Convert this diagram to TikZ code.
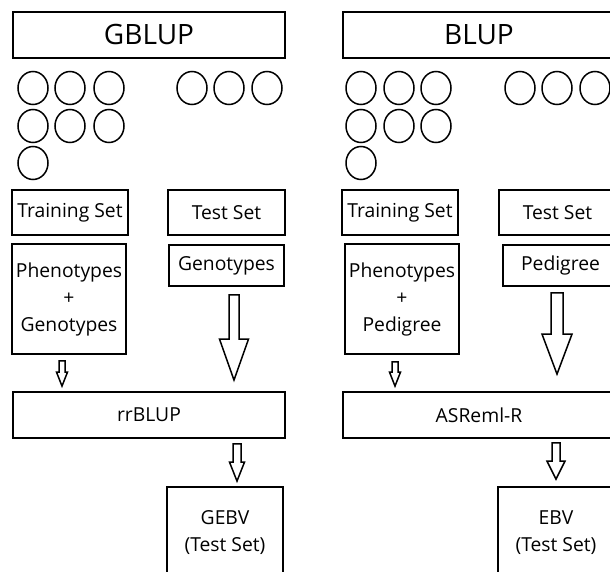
\documentclass[tikz,border=0pt]{standalone}
\usepackage{fontspec}
\setmainfont{Open Sans}
\usetikzlibrary{
    calc,
    shapes.geometric,
    positioning
}

\tikzset{
    box/.style={draw, line width=1.8pt, inner sep=0pt, align=center,
        font=\fontsize{19.3}{27}\selectfont},
    titlebox/.style={box, font=\fontsize{28}{32}\selectfont},
    seed/.style={draw, ellipse, line width=1.5pt, minimum width=30pt,
        minimum height=33pt, inner sep=0pt},
    arrowline/.style={draw, line width=1.5pt, line join=miter}
}

% hollow block arrow: from, to, shaft half width, head half width, head length
\newcommand{\hollowarrow}[5]{%
    \draw[arrowline] ($(#1)+(-#3,0)$) -- ($(#2)+(-#3,-#5)$) -- ($(#2)+(-#4,-#5)$)
        -- (#2) -- ($(#2)+(#4,-#5)$) -- ($(#2)+(#3,-#5)$) -- ($(#1)+(#3,0)$) -- cycle;}

\begin{document}
\begin{tikzpicture}[x=1pt, y=-1pt]
    \useasboundingbox (0,0) rectangle (610,572);
    \clip (0,0) rectangle (610,572);

    % GBLUP
    \node[titlebox, minimum width=272pt, minimum height=46pt] (gblup) at (149,35) {GBLUP};
    \foreach \cx/\cy [count=\k] in {33/88, 70/88, 109/88, 33/126, 70/126, 109/126,
            33/163, 192/88, 229/88, 267/88}
        \node[seed] (gs\k) at (\cx,\cy) {};
    \node[box, minimum width=116pt, minimum height=45pt] (gtrain) at (70,212.5) {Training Set};
    \node[box, minimum width=117pt, minimum height=45pt] (gtest) at (226.5,212.5) {Test Set};
    \node[box, minimum width=114pt, minimum height=110pt] (gpheno) at (69,299)
        {Phenotypes\\+\\Genotypes};
    \node[box, minimum width=115pt, minimum height=41pt] (ggeno) at (226.5,265.5) {Genotypes};
    \node[box, minimum width=272pt, minimum height=46pt] (rrblup) at (149,415) {rrBLUP};
    \node[box, minimum width=116pt, minimum height=92pt] (gebv) at (225,533)
        {GEBV\\(Test Set)};

    \coordinate (ga1) at ($(gpheno.south)+(-7,6)$);
    \coordinate (gb1) at ($(ga1 |- rrblup.north)+(0,-5)$);
    \coordinate (ga2) at ($(ggeno.south)+(7.5,8)$);
    \coordinate (gb2) at ($(ga2 |- rrblup.north)+(0,-11)$);
    \coordinate (ga3) at ($(rrblup.south)+(88,5)$);
    \coordinate (gb3) at ($(ga3 |- gebv.north)+(0,-5)$);
    \hollowarrow{ga1}{gb1}{3}{5.5}{14}
    \hollowarrow{ga2}{gb2}{5}{14.5}{41}
    \hollowarrow{ga3}{gb3}{4}{7.5}{19}

    % BLUP
    \node[titlebox, minimum width=272pt, minimum height=46pt] (blup) at (479,35) {BLUP};
    \foreach \cx/\cy [count=\k] in {361/88, 399/88, 436/88, 361/126, 399/126, 436/126,
            361/163, 520/88, 557/88, 595/88}
        \node[seed] (bs\k) at (\cx,\cy) {};
    \node[box, minimum width=116pt, minimum height=45pt] (btrain) at (400,212.5) {Training Set};
    \node[box, minimum width=117pt, minimum height=45pt] (btest) at (557.5,212.5) {Test Set};
    \node[box, minimum width=114pt, minimum height=110pt] (bpheno) at (402,299)
        {Phenotypes\\+\\Pedigree};
    \node[box, minimum width=115pt, minimum height=41pt] (bped) at (560.5,265.5) {Pedigree};
    \node[box, minimum width=272pt, minimum height=46pt] (asreml) at (479,415) {ASReml-R};
    \node[box, minimum width=116pt, minimum height=92pt] (ebv) at (556,533)
        {EBV\\(Test Set)};

    \coordinate (ba1) at ($(bpheno.south)+(-7,7)$);
    \coordinate (bb1) at ($(ba1 |- asreml.north)+(0,-5)$);
    \coordinate (ba2) at ($(bped.south)+(-3.5,6)$);
    \coordinate (bb2) at ($(ba2 |- asreml.north)+(0,-17)$);
    \coordinate (ba3) at ($(asreml.south)+(77,4)$);
    \coordinate (bb3) at ($(ba3 |- ebv.north)+(0,-7)$);
    \hollowarrow{ba1}{bb1}{3}{5.5}{14}
    \hollowarrow{ba2}{bb2}{6}{15}{40}
    \hollowarrow{ba3}{bb3}{4}{9}{18}
\end{tikzpicture}
\end{document}
